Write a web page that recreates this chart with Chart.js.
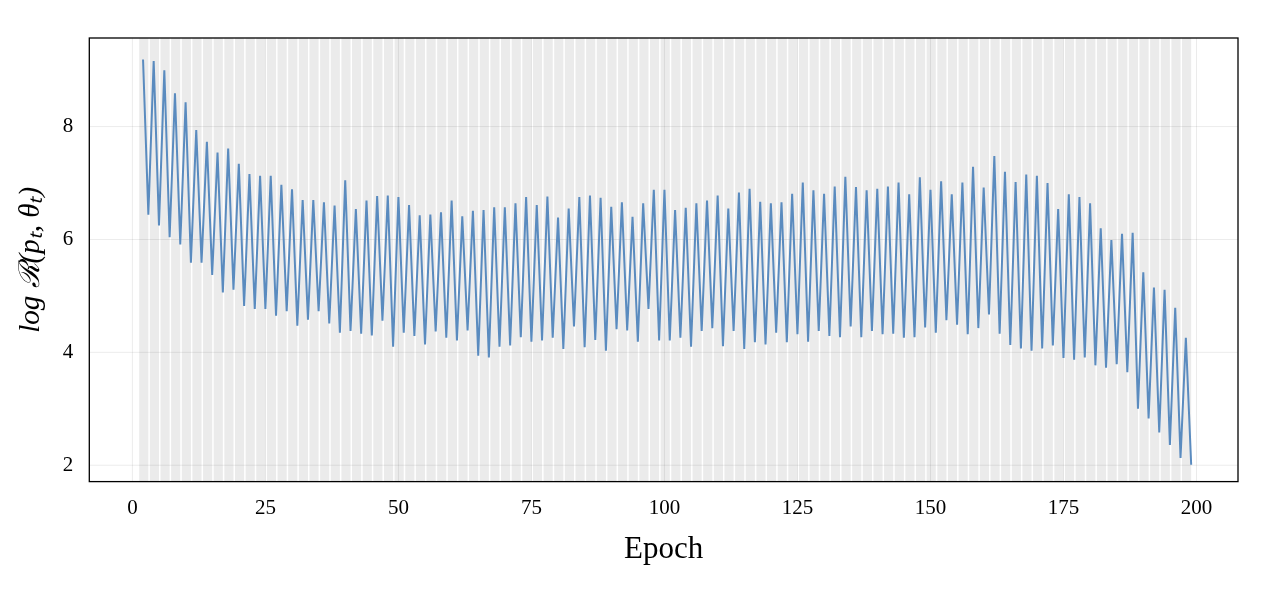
<!DOCTYPE html>
<html><head><meta charset="utf-8">
<script src="https://cdn.jsdelivr.net/npm/chart.js@4"></script>
<style>html,body{margin:0;background:#fff}</style></head>
<body><canvas id="c" width="1280" height="590"></canvas>
<script>
const peaks = [9.19,9.16,9.0,8.59,8.43,7.94,7.73,7.54,7.61,7.34,7.16,7.13,7.13,6.97,6.89,6.70,6.70,6.66,6.60,7.05,6.54,6.69,6.77,6.78,
 6.75,6.61,6.43,6.44,6.48,6.69,6.41,6.51,6.52,6.57,6.57,6.64,6.75,6.61,6.76,6.39,6.55,6.75,6.78,6.74,6.58,6.66,6.40,6.64,6.88,
 6.88,6.52,6.56,6.64,6.69,6.78,6.55,6.83,6.90,6.67,6.64,6.66,6.81,7.01,6.87,6.81,6.94,7.11,6.93,6.87,6.90,6.94,7.01,6.80,7.10,6.88,7.03,
 6.80,7.01,7.29,6.92,7.48,7.20,7.02,7.15,7.13,7.00,6.54,6.80,6.75,6.64,6.20,5.99,6.10,6.12,5.42,5.15,5.11,4.79,4.26];
const troughs = [6.44,6.25,6.04,5.91,5.59,5.59,5.37,5.06,5.11,4.82,4.77,4.77,4.65,4.73,4.47,4.58,4.73,4.51,4.35,4.38,4.33,4.30,4.56,4.10,
 4.35,4.29,4.14,4.37,4.26,4.21,4.39,3.94,3.91,4.10,4.12,4.27,4.19,4.21,4.26,4.06,4.46,4.09,4.22,4.03,4.41,4.39,4.19,4.77,4.21,
 4.21,4.26,4.10,4.38,4.43,4.11,4.38,4.06,4.18,4.14,4.35,4.18,4.32,4.19,4.38,4.29,4.27,4.46,4.27,4.38,4.32,4.33,4.26,4.27,4.44,4.35,4.57,
 4.49,4.32,4.43,4.67,4.33,4.13,4.07,4.03,4.07,4.12,3.90,3.87,3.91,3.77,3.73,3.79,3.65,3.00,2.83,2.58,2.36,2.13,2.01];
const firstEpoch = 2;
const xTicks = [0,25,50,75,100,125,150,175,200];
const yTicks = [2,4,6,8];

const points = [];
for (let i = 0; i < peaks.length; i++) {
  points.push({x: firstEpoch + 2*i, y: peaks[i]});
  points.push({x: firstEpoch + 2*i + 1, y: troughs[i]});
}

const bands = {
  id: 'bands',
  beforeDatasetsDraw(chart) {
    const {ctx, chartArea: a, scales: {x}} = chart;
    ctx.save();
    ctx.fillStyle = '#ebebeb';
    for (let e = 1; e < 199; e += 2) {
      const l = x.getPixelForValue(e), r = x.getPixelForValue(e + 2);
      ctx.fillRect(l + 1.5, a.top, r - l - 1.5, a.bottom - a.top);
    }
    ctx.strokeStyle = 'rgba(0,0,0,0.08)';
    ctx.lineWidth = 1;
    for (const t of xTicks) { const p = x.getPixelForValue(t); ctx.beginPath(); ctx.moveTo(p, a.top); ctx.lineTo(p, a.bottom); ctx.stroke(); }
    const y = chart.scales.y;
    for (const t of yTicks) { const p = y.getPixelForValue(t); ctx.beginPath(); ctx.moveTo(a.left, p); ctx.lineTo(a.right, p); ctx.stroke(); }
    ctx.restore();
  },
  afterDraw(chart) {
    const {ctx, chartArea: a} = chart;
    ctx.save(); ctx.strokeStyle = '#000'; ctx.lineWidth = 1.3;
    ctx.strokeRect(a.left, a.top, a.right - a.left, a.bottom - a.top); ctx.restore();
  }
};

new Chart(document.getElementById('c'), {
  type: 'line',
  data: { datasets: [{ data: points, borderColor: '#5a8bbf', borderWidth: 2, pointRadius: 0, tension: 0, fill: false }] },
  options: {
    responsive: false, animation: false,
    layout: { padding: { left: 10, right: 42, top: 38, bottom: 18 } },
    plugins: { legend: { display: false }, tooltip: { enabled: false } },
    scales: {
      x: { type: 'linear', min: -8.1, max: 207.8,
        afterBuildTicks: s => { s.ticks = xTicks.map(v => ({value: v})); },
        grid: { display: false, drawTicks: true }, border: { display: false },
        ticks: { color: '#000', font: { family: 'Liberation Serif', size: 21 }, padding: 6 },
        title: { display: true, text: 'Epoch', color: '#000', font: { family: 'Liberation Serif', size: 31 }, padding: { top: 4 } } },
      y: { min: 1.71, max: 9.57,
        afterBuildTicks: s => { s.ticks = yTicks.map(v => ({value: v})); },
        grid: { display: false }, border: { display: false },
        ticks: { color: '#000', font: { family: 'Liberation Serif', size: 21 }, padding: 8 },
        title: { display: true, text: 'log ℛ(pₜ, θₜ)', color: '#000', font: { family: 'Liberation Serif', size: 29, style: 'italic' }, padding: { bottom: 6 } } }
    }
  },
  plugins: [bands]
});
</script></body></html>
